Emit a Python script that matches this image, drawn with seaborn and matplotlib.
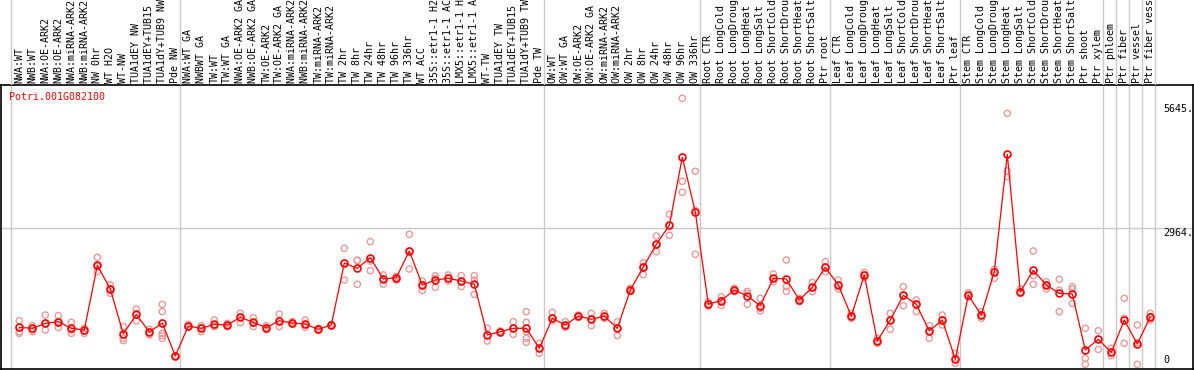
import numpy as np
import pandas as pd
import matplotlib
matplotlib.use("Agg")
import matplotlib.pyplot as plt
import seaborn as sns

# ----------------------------------------------------------------------
# Data
# ----------------------------------------------------------------------
GENE = "Potri.001G082100"

group_labels = [
    ["NWA:WT", "NWB:WT", "NWA:OE-ARK2", "NWB:OE-ARK2", "NWA:miRNA-ARK2",
     "NWB:miRNA-ARK2", "NW 0hr", "WT H2O", "WT-NW", "TUA1dEY NW",
     "TUA1dEY+TUB15 NW", "TUA1dY+TUB9 NW", "Pde NW"],
    ["NWA:WT GA", "NWBWT GA", "TW:WT", "TW:WT GA", "NWA:OE-ARK2 GA",
     "NWB:OE-ARK2 GA", "TW:OE-ARK2", "TW:OE-ARK2 GA", "NWA:miRNA-ARK2 GA",
     "NWB:miRNA-ARK2 GA", "TW:miRNA-ARK2", "TW:miRNA-ARK2 GA", "TW 2hr",
     "TW 8hr", "TW 24hr", "TW 48hr", "TW 96hr", "TW 336hr", "WT ACC",
     "35S::etr1-1 H2O", "35S::etr1-1 ACC", "LMX5::etr1-1 H2O",
     "LMX5::etr1-1 ACC", "WT-TW", "TUA1dEY TW", "TUA1dEY+TUB15 TW",
     "TUA1dY+TUB9 TW", "Pde TW"],
    ["OW:WT", "OW:WT GA", "OW:OE-ARK2", "OW:OE-ARK2 GA", "OW:miRNA-ARK2",
     "OW:miRNA-ARK2 GA", "OW 2hr", "OW 8hr", "OW 24hr", "OW 48hr",
     "OW 96hr", "OW 336hr"],
    ["Root CTR", "Root LongCold", "Root LongDrought", "Root LongHeat",
     "Root LongSalt", "Root ShortCold", "Root ShortDrought",
     "Root ShortHeat", "Root ShortSalt", "Ptr root"],
    ["Leaf CTR", "Leaf LongCold", "Leaf LongDrought", "Leaf LongHeat",
     "Leaf LongSalt", "Leaf ShortCold", "Leaf ShortDrought",
     "Leaf ShortHeat", "Leaf ShortSalt", "Ptr leaf"],
    ["Stem CTR", "Stem LongCold", "Stem LongDrought", "Stem LongHeat",
     "Stem LongSalt", "Stem ShortCold", "Stem ShortDrought",
     "Stem ShortHeat", "Stem ShortSalt", "Ptr shoot", "Ptr xylem"],
    ["Ptr phloem"],
    ["Ptr fiber"],
    ["Ptr vessel"],
    ["Ptr fiber vessel"],
]

mean_expr = [
    815, 794, 902, 938, 794, 757, 2157, 1645, 671, 1096, 714, 909, 195,
    844, 794, 880, 866, 1032, 923, 808, 959, 909, 887, 772, 866, 2207, 2092,
    2323, 1861, 1890, 2467, 1731, 1839, 1875, 1818, 1746, 649, 721, 794, 794,
    361,
    1010, 866, 1060, 988, 1060, 794, 1623, 2121, 2611, 3022, 4494, 3311,
    1320, 1392, 1623, 1493, 1284, 1875, 1861, 1407, 1681, 2114,
    1731, 1060, 1948, 519, 974, 1508, 1313, 736, 974, 123,
    1508, 1082, 2020, 4559, 1587, 2049, 1731, 1551, 1536, 325, 555,
    274, 974, 454, 1046,
]

rep_expr = [
    [959, 721, 685], [851, 757, 721], [1082, 902, 757], [1068, 938, 808],
    [923, 757, 685], [794, 736, 685], [2330, 2128, 2020], [1731, 1645, 1551],
    [830, 577, 527], [1212, 1082, 952], [772, 707, 649],
    [1313, 1154, 685, 635, 577], [195, 195, 195],
    [880, 830, 820], [851, 808, 721], [974, 830, 837], [902, 866, 830],
    [1118, 1032, 916], [1025, 902, 830], [851, 808, 772], [1104, 959, 830],
    [938, 909, 880], [974, 880, 815], [794, 772, 750], [880, 866, 852],
    [2525, 2200, 1839], [2258, 2270, 1746], [2669, 2250, 2041],
    [1948, 1861, 1746], [1918, 1890, 1839], [2828, 2467, 2077],
    [1818, 1731, 1609], [1933, 1875, 1681], [1948, 1875, 1818],
    [1933, 1803, 1696], [1933, 1839, 1529], [794, 649, 519], [736, 721, 707],
    [938, 794, 663], [1154, 923, 721, 577, 490], [469, 361, 252],
    [1140, 1010, 952], [938, 866, 815], [1082, 1060, 1039], [1118, 988, 851],
    [1118, 1046, 1010], [938, 794, 635], [1659, 1623, 1587],
    [2214, 2121, 1955], [2792, 2611, 2453], [3260, 3022, 2806],
    [5771, 3975, 3737], [4191, 3347, 2395],
    [1371, 1320, 1270], [1479, 1392, 1284], [1659, 1623, 1587],
    [1594, 1551, 1313], [1443, 1226, 1169], [1969, 1875, 1803],
    [2272, 1696, 1594], [1443, 1407, 1371], [1789, 1681, 1587],
    [2236, 2114, 2020],
    [1839, 1731, 1645], [1118, 1060, 1010], [2005, 1948, 1890],
    [577, 519, 469], [1118, 974, 772], [1696, 1508, 1284],
    [1407, 1313, 1154], [851, 736, 577], [1082, 974, 866], [252, 123, 36],
    [1565, 1508, 1471], [1154, 1082, 1010], [2070, 2020, 1875],
    [5446, 4198, 4075], [1645, 1587, 1551], [2467, 1933, 1746],
    [1803, 1731, 1645], [1854, 1623, 1154], [1696, 1645, 1334],
    [794, 144, 14], [743, 555, 339],
    [361, 274, 202], [1443, 1010, 469], [866, 482, 14], [1118, 1046, 974],
]

axis_marks = [5645, 2964]

# ----------------------------------------------------------------------
# Styling / layout (pixel geometry of the reference)
# ----------------------------------------------------------------------
W, H = 1194, 370
LINE_RED = "#FF0000"
REP_RED = "#E99A9A"
GRID = "#C8C8C8"
FONT = "DejaVu Sans Mono"
FS = 7.2

X0_PX, STEP_PX = 19.3, 13.0          # centre of first sample, spacing
ZERO_PX, UNITS_PER_PX = 365, 21.64   # y pixel of 0, data units per pixel
PLOT_TOP, PLOT_BOT = 85, 369


def main():
    sns.set_style("white")
    plt.rcParams["font.family"] = [FONT, "DejaVu Sans"]

    labels = [lab for grp in group_labels for lab in grp]
    pos = np.arange(len(labels))
    sizes = [len(g) for g in group_labels]
    bounds = np.concatenate([[0], np.cumsum(sizes)])

    reps = pd.DataFrame(
        [(i, v) for i, vals in enumerate(rep_expr) for v in vals],
        columns=["pos", "value"],
    )
    means = pd.DataFrame({"pos": pos, "value": mean_expr})

    fig = plt.figure(figsize=(W / 100, H / 100), dpi=100)
    ax = fig.add_axes([1 / W, (H - PLOT_BOT) / H, 1192 / W,
                       (PLOT_BOT - PLOT_TOP) / H])
    hdr = fig.add_axes([1 / W, (H - PLOT_TOP) / H, 1192 / W, PLOT_TOP / H],
                       sharex=ax)

    ax.set_xlim((1 - X0_PX) / STEP_PX, (1193 - X0_PX) / STEP_PX)
    ax.set_ylim((ZERO_PX - PLOT_BOT) * UNITS_PER_PX,
                (ZERO_PX - PLOT_TOP) * UNITS_PER_PX)
    hdr.set_ylim(0, PLOT_TOP)
    hdr.axis("off")

    # group separators, through header and plot
    for b in bounds:
        for a in (ax, hdr):
            a.axvline(b - 0.65, color=GRID, lw=1.0, zorder=0)
    ax.axhline(axis_marks[1], color=GRID, lw=1.0, zorder=0)

    sns.scatterplot(data=reps, x="pos", y="value", ax=ax, marker="o",
                    s=20, facecolors="none", edgecolors=REP_RED,
                    linewidths=1.0, zorder=2, legend=False)
    sns.lineplot(data=means, x="pos", y="value", ax=ax, color=LINE_RED,
                 lw=0.9, estimator=None, sort=False, marker="o",
                 markersize=5, markerfacecolor="none",
                 markeredgecolor=LINE_RED, markeredgewidth=1.2, zorder=3)

    for spine in ax.spines.values():
        spine.set_color("black")
        spine.set_linewidth(1.2)
    ax.set_xticks([])
    ax.set_yticks([])
    ax.set_xlabel("")
    ax.set_ylabel("")

    # sample names (vertical, bottom anchored)
    for i, lab in zip(pos, labels):
        hdr.text(i, 2, lab, rotation=90, ha="center", va="bottom",
                 fontsize=FS, family=FONT, color="black")

    # value labels on the right
    for v in axis_marks:
        ax.text(len(labels), v, f"{v}.", ha="left", va="top",
                fontsize=FS, family=FONT, color="black")
    ax.text(len(labels), 0, "0", ha="left", va="bottom",
            fontsize=FS, family=FONT, color="black")

    ax.text(0.0067, 0.958, GENE, transform=ax.transAxes, ha="left",
            va="center", fontsize=FS, family=FONT, color=LINE_RED)

    fig.savefig("out.png", dpi=100)
    plt.close(fig)


if __name__ == "__main__":
    main()
